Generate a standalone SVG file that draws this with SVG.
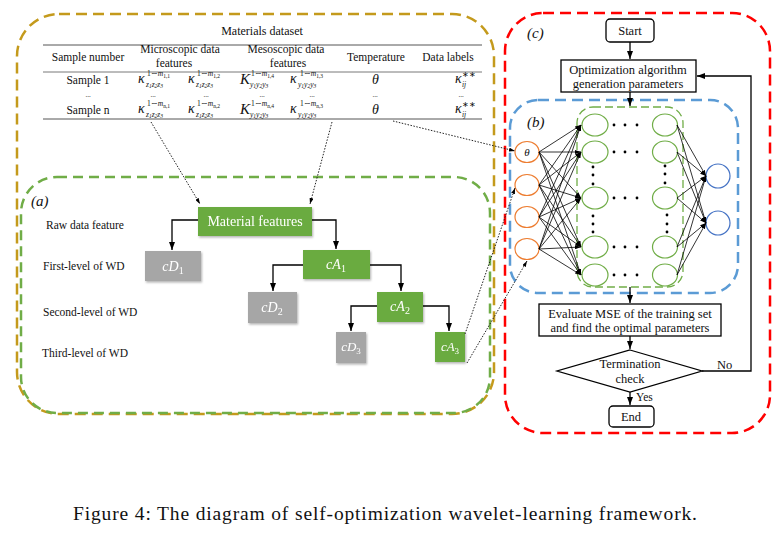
<svg xmlns="http://www.w3.org/2000/svg" width="784" height="535" viewBox="0 0 784 535">
<style>
.t{font-family:"Liberation Serif","Times New Roman",serif;fill:#111}
.tb{font-size:11.5px}
.mi{font-family:"Liberation Serif",serif;font-style:italic;fill:#111}
.m{font-size:14px}
.sp{font-size:7.5px}
.ss{font-size:5.5px}
.fc{font-size:12.5px}
.lvl{font-size:11.5px}
.wt{font-family:"Liberation Serif",serif;fill:#fff}
.box{stroke:#000;stroke-width:1.3;fill:#fff}
.ln{stroke:#000;stroke-width:1.3;fill:none}
.nl{stroke:#000;stroke-width:0.8;fill:none}
.dt{stroke:#222;stroke-width:1;stroke-dasharray:1.5 1.5;fill:none}
.g{fill:#6aab3f}
.gr{fill:#a6a6a6}
.in{fill:#fff;stroke:#ed7d31;stroke-width:1.2}
.hn{fill:#fff;stroke:#70ad47;stroke-width:1.2}
.on{fill:#fff;stroke:#4472c4;stroke-width:1.2}
.dot{fill:#000}
</style>
<defs>
<marker id="ah" markerWidth="8" markerHeight="6" refX="8" refY="3" orient="auto" markerUnits="userSpaceOnUse"><path d="M0,0 L8,3 L0,6 z" fill="#000"/></marker>
<marker id="sh" markerWidth="6" markerHeight="4" refX="6" refY="2" orient="auto" markerUnits="userSpaceOnUse"><path d="M0,0 L6,2 L0,4 z" fill="#000"/></marker>
<filter id="ds" x="-20%" y="-20%" width="150%" height="160%"><feDropShadow dx="1" dy="1.5" stdDeviation="1" flood-color="#000" flood-opacity="0.3"/></filter>
</defs>

<!-- region frames -->
<g id="frames" fill="none">
<rect x="17" y="14" width="477" height="400" rx="42" stroke="#c49a1c" stroke-width="2.5" stroke-dasharray="11 6"/>
<rect x="21" y="177" width="469" height="236" rx="36" stroke="#70ad47" stroke-width="2.5" stroke-dasharray="10 6"/>
<rect x="505" y="13" width="265" height="420" rx="38" stroke="#ff0000" stroke-width="2.5" stroke-dasharray="11 6"/>
<rect x="510" y="100" width="228" height="193" rx="28" stroke="#5b9bd5" stroke-width="2.5" stroke-dasharray="11 6"/>
<rect x="577" y="107" width="106" height="180" rx="16" stroke="#70ad47" stroke-width="1.3" stroke-dasharray="8 4"/>
<text class="mi" x="527" y="38" font-size="15">(c)</text>
<text class="mi" x="527" y="127" font-size="15">(b)</text>
<text class="mi" x="31" y="206" font-size="15">(a)</text>
</g>

<!-- table -->
<g id="table">
<text class="t" x="262" y="35" font-size="12" text-anchor="middle">Materials dataset</text>
<line x1="43" y1="45" x2="482" y2="45" stroke="#555" stroke-width="1"/>
<line x1="43" y1="72" x2="482" y2="72" stroke="#555" stroke-width="0.8"/>
<line x1="43" y1="119" x2="482" y2="119" stroke="#555" stroke-width="1"/>
<g class="t tb" text-anchor="middle">
<text x="88" y="61">Sample number</text>
<text x="180" y="53">Microscopic data</text>
<text x="174" y="67">features</text>
<text x="286" y="53">Mesoscopic data</text>
<text x="288" y="67">features</text>
<text x="376" y="61">Temperature</text>
<text x="448" y="61">Data labels</text>
<text x="88" y="84">Sample 1</text>
<text x="88" y="114">Sample n</text>
</g>
<g class="t" font-size="7" fill="#444" text-anchor="middle">
<text x="88" y="97">...</text><text x="153" y="97">...</text><text x="206" y="97">...</text><text x="262" y="97">...</text><text x="312" y="97">...</text><text x="375" y="97">...</text><text x="461" y="97">...</text>
</g>
<!-- row 1 -->
<g id="row1">
<text class="mi m" x="138" y="83">κ</text>
<text class="t sp" x="147" y="76">1∼<tspan font-style="italic">m</tspan><tspan class="ss" dy="1.5">1,1</tspan></text>
<text class="mi sp" x="146" y="86.5">z<tspan class="ss" dy="1.2">1</tspan><tspan dy="-1.2">z</tspan><tspan class="ss" dy="1.2">2</tspan><tspan dy="-1.2">z</tspan><tspan class="ss" dy="1.2">3</tspan></text>
<text class="mi m" x="188" y="83">κ</text>
<text class="t sp" x="197" y="76">1∼<tspan font-style="italic">m</tspan><tspan class="ss" dy="1.5">1,2</tspan></text>
<text class="mi sp" x="196" y="86.5">z<tspan class="ss" dy="1.2">1</tspan><tspan dy="-1.2">z</tspan><tspan class="ss" dy="1.2">2</tspan><tspan dy="-1.2">z</tspan><tspan class="ss" dy="1.2">3</tspan></text>
<text class="mi" font-size="15" x="240" y="84">K</text>
<text class="t sp" x="251" y="76">1∼<tspan font-style="italic">m</tspan><tspan class="ss" dy="1.5">1,4</tspan></text>
<text class="mi sp" x="250" y="86.5">y<tspan class="ss" dy="1.2">1</tspan><tspan dy="-1.2">y</tspan><tspan class="ss" dy="1.2">2</tspan><tspan dy="-1.2">y</tspan><tspan class="ss" dy="1.2">3</tspan></text>
<text class="mi m" x="290" y="83">κ</text>
<text class="t sp" x="300" y="76">1∼<tspan font-style="italic">m</tspan><tspan class="ss" dy="1.5">1,3</tspan></text>
<text class="mi sp" x="298" y="86.5">y<tspan class="ss" dy="1.2">1</tspan><tspan dy="-1.2">y</tspan><tspan class="ss" dy="1.2">2</tspan><tspan dy="-1.2">y</tspan><tspan class="ss" dy="1.2">3</tspan></text>
<text class="mi m" x="372" y="84">θ</text>
<text class="mi m" x="455" y="83">κ</text>
<text class="t sp" x="462" y="77">∗∗</text>
<text class="mi sp" x="462" y="87">ij</text>
</g>
<!-- row n -->
<g id="rown">
<text class="mi m" x="138" y="113">κ</text>
<text class="t sp" x="147" y="106">1∼<tspan font-style="italic">m</tspan><tspan class="ss" dy="1.5">n,1</tspan></text>
<text class="mi sp" x="146" y="116.5">z<tspan class="ss" dy="1.2">1</tspan><tspan dy="-1.2">z</tspan><tspan class="ss" dy="1.2">2</tspan><tspan dy="-1.2">z</tspan><tspan class="ss" dy="1.2">3</tspan></text>
<text class="mi m" x="188" y="113">κ</text>
<text class="t sp" x="197" y="106">1∼<tspan font-style="italic">m</tspan><tspan class="ss" dy="1.5">n,2</tspan></text>
<text class="mi sp" x="196" y="116.5">z<tspan class="ss" dy="1.2">1</tspan><tspan dy="-1.2">z</tspan><tspan class="ss" dy="1.2">2</tspan><tspan dy="-1.2">z</tspan><tspan class="ss" dy="1.2">3</tspan></text>
<text class="mi" font-size="15" x="240" y="114">K</text>
<text class="t sp" x="251" y="106">1∼<tspan font-style="italic">m</tspan><tspan class="ss" dy="1.5">n,4</tspan></text>
<text class="mi sp" x="250" y="116.5">y<tspan class="ss" dy="1.2">1</tspan><tspan dy="-1.2">y</tspan><tspan class="ss" dy="1.2">2</tspan><tspan dy="-1.2">y</tspan><tspan class="ss" dy="1.2">3</tspan></text>
<text class="mi m" x="290" y="113">κ</text>
<text class="t sp" x="300" y="106">1∼<tspan font-style="italic">m</tspan><tspan class="ss" dy="1.5">n,3</tspan></text>
<text class="mi sp" x="298" y="116.5">y<tspan class="ss" dy="1.2">1</tspan><tspan dy="-1.2">y</tspan><tspan class="ss" dy="1.2">2</tspan><tspan dy="-1.2">y</tspan><tspan class="ss" dy="1.2">3</tspan></text>
<text class="mi m" x="372" y="114">θ</text>
<text class="mi m" x="455" y="113">κ</text>
<text class="t sp" x="462" y="107">∗∗</text>
<text class="mi sp" x="462" y="117">ij</text>
</g>
</g>

<!-- level labels -->
<g id="levels" class="t lvl">
<text x="46" y="229">Raw data feature</text>
<text x="43" y="270">First-level of WD</text>
<text x="43" y="316">Second-level of WD</text>
<text x="42" y="357">Third-level of WD</text>
</g>

<!-- tree nodes -->
<g id="n-mf" filter="url(#ds)"><rect class="g" x="198" y="207" width="114" height="29"/><text class="wt" x="255" y="226" font-size="14" text-anchor="middle">Material features</text></g>
<g id="n-cd1" filter="url(#ds)"><rect class="gr" x="145" y="251" width="56" height="30"/><text class="wt" x="173" y="271" font-size="14" font-style="italic" text-anchor="middle">cD<tspan font-size="10" font-style="normal" dy="3">1</tspan></text></g>
<g id="n-ca1" filter="url(#ds)"><rect class="g" x="303" y="250" width="67" height="29"/><text class="wt" x="336" y="269" font-size="14" font-style="italic" text-anchor="middle">cA<tspan font-size="10" font-style="normal" dy="3">1</tspan></text></g>
<g id="n-cd2" filter="url(#ds)"><rect class="gr" x="248" y="292" width="49" height="31"/><text class="wt" x="272" y="312" font-size="14" font-style="italic" text-anchor="middle">cD<tspan font-size="10" font-style="normal" dy="3">2</tspan></text></g>
<g id="n-ca2" filter="url(#ds)"><rect class="g" x="377" y="292" width="46" height="30"/><text class="wt" x="400" y="311" font-size="14" font-style="italic" text-anchor="middle">cA<tspan font-size="10" font-style="normal" dy="3">2</tspan></text></g>
<g id="n-cd3" filter="url(#ds)"><rect class="gr" x="336" y="332" width="30" height="31"/><text class="wt" x="351" y="351" font-size="13" font-style="italic" text-anchor="middle">cD<tspan font-size="9" font-style="normal" dy="3">3</tspan></text></g>
<g id="n-ca3" filter="url(#ds)"><rect class="g" x="435" y="332" width="30" height="30"/><text class="wt" x="450" y="351" font-size="13" font-style="italic" text-anchor="middle">cA<tspan font-size="9" font-style="normal" dy="3">3</tspan></text></g>

<!-- network nodes -->
<g id="n-input">
<ellipse class="in" cx="527" cy="152" rx="12" ry="10.5"/>
<text class="mi" x="527" y="156" font-size="11" text-anchor="middle">θ</text>
<ellipse class="in" cx="527" cy="185" rx="12" ry="10.5"/>
<ellipse class="in" cx="527" cy="217" rx="12" ry="10.5"/>
<ellipse class="in" cx="527" cy="249" rx="12" ry="10.5"/>
</g>
<g id="n-hidden1">
<ellipse class="hn" cx="595" cy="125" rx="13" ry="11"/>
<ellipse class="hn" cx="595" cy="152" rx="13" ry="11"/>
<ellipse class="hn" cx="595" cy="198" rx="13" ry="11"/>
<ellipse class="hn" cx="595" cy="247" rx="13" ry="11"/>
<ellipse class="hn" cx="595" cy="275" rx="13" ry="11"/>
</g>
<g id="n-hiddenN">
<ellipse class="hn" cx="665" cy="125" rx="12.5" ry="11"/>
<ellipse class="hn" cx="665" cy="152" rx="12.5" ry="11"/>
<ellipse class="hn" cx="665" cy="198" rx="12.5" ry="11"/>
<ellipse class="hn" cx="665" cy="247" rx="12.5" ry="11"/>
<ellipse class="hn" cx="665" cy="275" rx="12.5" ry="11"/>
</g>
<g id="n-output">
<ellipse class="on" cx="718" cy="176" rx="12" ry="12"/>
<ellipse class="on" cx="718" cy="223" rx="12" ry="12"/>
</g>
<g id="dots">
<circle class="dot" cx="614" cy="125" r="1.4"/><circle class="dot" cx="625" cy="125" r="1.4"/><circle class="dot" cx="637" cy="125" r="1.4"/>
<circle class="dot" cx="614" cy="152" r="1.4"/><circle class="dot" cx="625" cy="152" r="1.4"/><circle class="dot" cx="637" cy="152" r="1.4"/>
<circle class="dot" cx="614" cy="198" r="1.4"/><circle class="dot" cx="625" cy="198" r="1.4"/><circle class="dot" cx="637" cy="198" r="1.4"/>
<circle class="dot" cx="614" cy="247" r="1.4"/><circle class="dot" cx="625" cy="247" r="1.4"/><circle class="dot" cx="637" cy="247" r="1.4"/>
<circle class="dot" cx="614" cy="275" r="1.4"/><circle class="dot" cx="625" cy="275" r="1.4"/><circle class="dot" cx="637" cy="275" r="1.4"/>
<circle class="dot" cx="593" cy="167" r="1.4"/><circle class="dot" cx="593" cy="175" r="1.4"/><circle class="dot" cx="593" cy="184" r="1.4"/>
<circle class="dot" cx="593" cy="216" r="1.4"/><circle class="dot" cx="593" cy="224" r="1.4"/><circle class="dot" cx="593" cy="232" r="1.4"/>
<circle class="dot" cx="665" cy="166" r="1.4"/><circle class="dot" cx="665" cy="174" r="1.4"/><circle class="dot" cx="665" cy="183" r="1.4"/>
<circle class="dot" cx="667" cy="215" r="1.4"/><circle class="dot" cx="667" cy="224" r="1.4"/><circle class="dot" cx="667" cy="232" r="1.4"/>
</g>

<!-- flowchart nodes -->
<g id="n-start"><rect class="box" x="606" y="19" width="48" height="23" rx="4"/><text class="t fc" x="630" y="35" text-anchor="middle">Start</text></g>
<g id="n-opt"><rect class="box" x="561" y="60" width="135" height="32"/><text class="t fc" x="628" y="74" text-anchor="middle">Optimization algorithm</text><text class="t fc" x="628" y="88" text-anchor="middle">generation parameters</text></g>
<g id="n-eval"><rect class="box" x="539" y="304" width="182" height="32"/><text class="t fc" x="630" y="318" text-anchor="middle">Evaluate MSE of the training set</text><text class="t fc" x="630" y="332" text-anchor="middle">and find the optimal parameters</text></g>
<g id="n-check"><polygon class="box" points="630,350 702,371 630,392 557,371"/><text class="t fc" x="630" y="368" text-anchor="middle">Termination</text><text class="t fc" x="630" y="383" text-anchor="middle">check</text></g>
<g id="n-end"><rect class="box" x="609" y="406" width="45" height="21" rx="4"/><text class="t fc" x="631" y="421" text-anchor="middle">End</text></g>

<!-- connectors -->
<g id="connectors">
<path class="ln" d="M198,220 H172 V250" marker-end="url(#ah)"/>
<path class="ln" d="M312,220 H336 V249" marker-end="url(#ah)"/>
<path class="ln" d="M303,265 H273 V291" marker-end="url(#ah)"/>
<path class="ln" d="M370,265 H401 V291" marker-end="url(#ah)"/>
<path class="ln" d="M377,306 H351 V331" marker-end="url(#ah)"/>
<path class="ln" d="M423,306 H449 V331" marker-end="url(#ah)"/>

<path class="dt" d="M151,122 L200,204" marker-end="url(#sh)"/>
<path class="dt" d="M332,122 L310,204" marker-end="url(#sh)"/>
<path class="dt" d="M393,121 L515,151" marker-end="url(#sh)"/>
<path class="dt" d="M465,334 L515,188" marker-end="url(#sh)"/>
<path class="dt" d="M467,363 L527,261" marker-end="url(#sh)"/>

<g id="net-in">
<path class="nl" d="M539,152 L581,125" marker-end="url(#sh)"/><path class="nl" d="M539,152 L581,152" marker-end="url(#sh)"/><path class="nl" d="M539,152 L581,198" marker-end="url(#sh)"/><path class="nl" d="M539,152 L581,247" marker-end="url(#sh)"/><path class="nl" d="M539,152 L581,275" marker-end="url(#sh)"/>
<path class="nl" d="M539,185 L581,125" marker-end="url(#sh)"/><path class="nl" d="M539,185 L581,152" marker-end="url(#sh)"/><path class="nl" d="M539,185 L581,198" marker-end="url(#sh)"/><path class="nl" d="M539,185 L581,247" marker-end="url(#sh)"/><path class="nl" d="M539,185 L581,275" marker-end="url(#sh)"/>
<path class="nl" d="M539,217 L581,125" marker-end="url(#sh)"/><path class="nl" d="M539,217 L581,152" marker-end="url(#sh)"/><path class="nl" d="M539,217 L581,198" marker-end="url(#sh)"/><path class="nl" d="M539,217 L581,247" marker-end="url(#sh)"/><path class="nl" d="M539,217 L581,275" marker-end="url(#sh)"/>
<path class="nl" d="M539,249 L581,125" marker-end="url(#sh)"/><path class="nl" d="M539,249 L581,152" marker-end="url(#sh)"/><path class="nl" d="M539,249 L581,198" marker-end="url(#sh)"/><path class="nl" d="M539,249 L581,247" marker-end="url(#sh)"/><path class="nl" d="M539,249 L581,275" marker-end="url(#sh)"/>
</g>
<g id="net-out">
<path class="nl" d="M677,125 L706,176" marker-end="url(#sh)"/><path class="nl" d="M677,125 L706,223" marker-end="url(#sh)"/>
<path class="nl" d="M677,152 L706,176" marker-end="url(#sh)"/><path class="nl" d="M677,152 L706,223" marker-end="url(#sh)"/>
<path class="nl" d="M677,198 L706,176" marker-end="url(#sh)"/><path class="nl" d="M677,198 L706,223" marker-end="url(#sh)"/>
<path class="nl" d="M677,247 L706,176" marker-end="url(#sh)"/><path class="nl" d="M677,247 L706,223" marker-end="url(#sh)"/>
<path class="nl" d="M677,275 L706,176" marker-end="url(#sh)"/><path class="nl" d="M677,275 L706,223" marker-end="url(#sh)"/>
</g>

<path class="ln" d="M630,42 V59" marker-end="url(#ah)"/>
<path class="ln" d="M630,92 V106" marker-end="url(#ah)"/>
<path class="ln" d="M630,287 V303" marker-end="url(#ah)"/>
<path class="ln" d="M630,336 V349" marker-end="url(#ah)"/>
<path class="ln" d="M630,392 V405" marker-end="url(#ah)"/>
<path class="ln" d="M702,371 H751 V76 H697" marker-end="url(#ah)"/>
<text class="t fc" x="717" y="369">No</text>
<text class="t" x="636" y="401" font-size="11.5">Yes</text>
</g>

<text class="t" x="73" y="520" font-size="19.5" textLength="624" lengthAdjust="spacing">Figure 4: The diagram of self-optimization wavelet-learning framework.</text>
</svg>
